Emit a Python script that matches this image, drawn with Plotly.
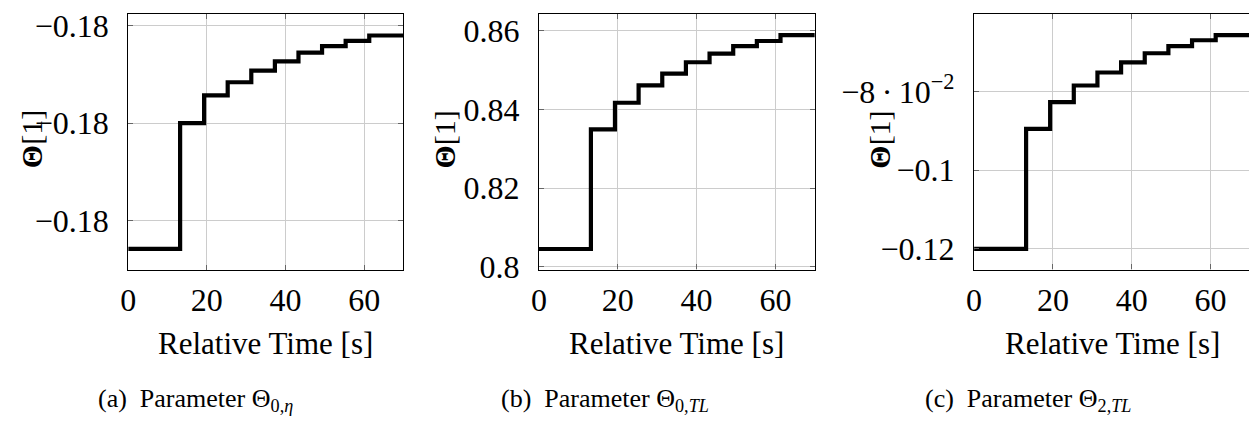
import plotly.graph_objects as go

# ---------------- data ----------------
time_s = [0, 13.2, 19.3, 25.3, 31.3, 37.3, 43.3, 49.3, 55.3, 61.3, 70]
theta_0_eta = [-0.180258, -0.180000, -0.179943, -0.179916, -0.179892, -0.179873,
               -0.179855, -0.179842, -0.179831, -0.179820, -0.179820]
theta_0_TL = [0.8045, 0.8349, 0.8417, 0.8461, 0.8491, 0.8520,
              0.8542, 0.8561, 0.8574, 0.8589, 0.8589]
theta_2_TL = [-0.1200, -0.0895, -0.0827, -0.0785, -0.0752, -0.0726,
              -0.0703, -0.0685, -0.0670, -0.0657, -0.0657]

x_tick_vals = [0, 20, 40, 60]
x_tick_text = ["0", "20", "40", "60"]
y1_tick_vals = [-0.1802, -0.1800, -0.1798]
y1_tick_text = ["\u22120.18", "\u22120.18", "\u22120.18"]
y2_tick_vals = [0.80, 0.82, 0.84, 0.86]
y2_tick_text = ["0.8", "0.82", "0.84", "0.86"]
y3_tick_vals = [-0.12, -0.10, -0.08]
y3_tick_text = ["\u22120.12", "\u22120.1", "\u22128\u2009\u00b7\u200910<sup>\u22122</sup>"]

x_title = "Relative Time [s]"
y_title = "<b>\u0398</b>[1]"
captions = ["(a)  Parameter \u0398<sub>0,<i>\u03b7</i></sub>",
            "(b)  Parameter \u0398<sub>0,<i>TL</i></sub>",
            "(c)  Parameter \u0398<sub>2,<i>TL</i></sub>"]

# ---------------- layout helpers ----------------
W, H = 1249, 423
FONT = "'Liberation Serif', 'Times New Roman', serif"

def xdom(a, b):
    return [a / W, min(b / W, 1.0)]

def ydom(top, bottom):
    return [1 - bottom / H, 1 - top / H]

panels = [
    dict(y=theta_0_eta, xd=xdom(121, 398), yd=ydom(9, 278), xr=[0, 70],
         yr=[-0.180301, -0.179775], tv=y1_tick_vals, tt=y1_tick_text,
         ytx=23, cap_x=189, mirror="ticks"),
    dict(y=theta_0_TL, xd=xdom(534.3, 812), yd=ydom(9.3, 277.7), xr=[0, 70],
         yr=[0.79927, 0.8643], tv=y2_tick_vals, tt=y2_tick_text,
         ytx=439, cap_x=601, mirror="ticks"),
    dict(y=theta_2_TL, xd=xdom(972.3, 1249), yd=ydom(9.3, 277.7), xr=[0, 69.75],
         yr=[-0.12525, -0.0603], tv=y3_tick_vals, tt=y3_tick_text,
         ytx=877, cap_x=1027, mirror=False),
]

fig = go.Figure()
annotations = []
for i, p in enumerate(panels, start=1):
    sfx = "" if i == 1 else str(i)
    fig.add_trace(go.Scatter(
        x=time_s, y=p["y"], mode="lines", line=dict(shape="hv", color="black", width=4.2),
        xaxis="x" + sfx, yaxis="y" + sfx, showlegend=False, hoverinfo="skip"))
    common = dict(showline=True, linecolor="black", linewidth=1.2,
                  showgrid=True, gridcolor="#cccccc", gridwidth=1,
                  ticks="inside", ticklen=5, tickwidth=1, tickcolor="#666666",
                  zeroline=False, tickfont=dict(family=FONT, size=32, color="black"),
                  fixedrange=True)
    fig.update_layout(**{
        "xaxis" + sfx: dict(domain=p["xd"], range=p["xr"], anchor="y" + sfx,
                            tickmode="array", tickvals=x_tick_vals, ticktext=x_tick_text,
                            ticklabelstandoff=2, mirror="ticks", **common),
        "yaxis" + sfx: dict(domain=p["yd"], range=p["yr"], anchor="x" + sfx,
                            tickmode="array", tickvals=p["tv"], ticktext=p["tt"],
                            ticklabelstandoff=12, mirror=p["mirror"], **common),
    })
    xc = (p["xd"][0] + p["xd"][1]) / 2 if i < 3 else (972.3 + 1250) / 2 / W
    annotations.append(dict(x=xc, y=1 - 355 / H, xref="paper", yref="paper",
                            text=x_title, showarrow=False, xanchor="center", yanchor="middle",
                            font=dict(family=FONT, size=31, color="black")))
    annotations.append(dict(x=p["ytx"] / W, y=1 - 141 / H, xref="paper", yref="paper",
                            text=y_title, showarrow=False, textangle=-90,
                            xanchor="center", yanchor="middle",
                            font=dict(family=FONT, size=30, color="black")))
    annotations.append(dict(x=p["cap_x"] / W, y=1 - 415 / H, xref="paper", yref="paper",
                            text=captions[i - 1], showarrow=False, xanchor="center",
                            yanchor="middle", font=dict(family=FONT, size=26, color="black")))

fig.update_layout(width=W, height=H, margin=dict(l=0, r=0, t=0, b=0),
                  paper_bgcolor="white", plot_bgcolor="white",
                  font=dict(family=FONT, color="black"),
                  annotations=annotations)
fig.write_html("out.html")
